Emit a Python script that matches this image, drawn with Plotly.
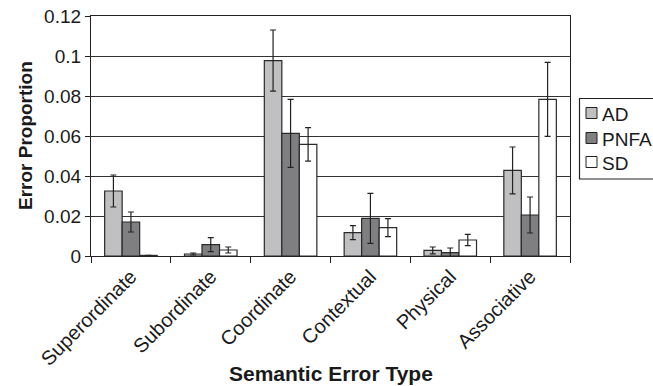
import plotly.graph_objects as go

categories = ["Superordinate", "Subordinate", "Coordinate", "Contextual", "Physical", "Associative"]
ad = [0.0325, 0.001, 0.0977, 0.0117, 0.0028, 0.0428]
ad_err = [0.008, 0.0005, 0.0153, 0.0035, 0.0017, 0.0117]
pnfa = [0.017, 0.0057, 0.0613, 0.0188, 0.0017, 0.0205]
pnfa_err = [0.005, 0.0035, 0.017, 0.0125, 0.0023, 0.009]
sd = [0.0003, 0.003, 0.0558, 0.0142, 0.008, 0.0783]
sd_err = [0.0, 0.0015, 0.0084, 0.0045, 0.0028, 0.0185]
yticks = [0, 0.02, 0.04, 0.06, 0.08, 0.1, 0.12]
yticklabels = ["0", "0.02", "0.04", "0.06", "0.08", "0.1", "0.12"]

series_names = ["AD", "PNFA", "SD"]
series_colors = ["#c0c0c2", "#7f7f81", "#ffffff"]

FONT = "Liberation Sans, Arial, sans-serif"
TXT = "#1a1a1a"
EDGE = "#2a2a2a"

# plot area in pixels
L, R, T, B = 91, 570, 16, 256
W, H = 653, 386


def px(x):
    return (x - L) / (R - L)


def py(y):
    return (B - y) / (B - T)


fig = go.Figure()
for name, vals, errs, color in zip(series_names, [ad, pnfa, sd], [ad_err, pnfa_err, sd_err], series_colors):
    fig.add_trace(go.Bar(
        name=name, x=categories, y=vals,
        marker=dict(color=color, line=dict(color=EDGE, width=1.2)),
        error_y=dict(type="data", array=errs, visible=True, color="#222222", thickness=1.2, width=3),
        showlegend=False,
    ))

# legend (drawn as layout decoration)
shapes = [dict(type="rect", xref="paper", yref="paper", x0=px(579.5), x1=px(720), y0=py(98.5), y1=py(179),
               line=dict(color="#222222", width=1.2), fillcolor="white", layer="above")]
annotations = []
row_y = [113, 138, 162]
for name, color, yy in zip(series_names, series_colors, row_y):
    shapes.append(dict(type="rect", xref="paper", yref="paper", x0=px(586), x1=px(597), y0=py(yy - 5.5), y1=py(yy + 5.5),
                       line=dict(color="#222222", width=1), fillcolor=color, layer="above"))
    annotations.append(dict(text=name, xref="paper", yref="paper", x=px(600), y=py(yy + 1),
                            xanchor="left", yanchor="middle", showarrow=False,
                            font=dict(size=19, family=FONT, color=TXT)))

annotations += [
    dict(text="<b>Error Proportion</b>", xref="paper", yref="paper",
         x=px(25), y=py(136), textangle=-90,
         showarrow=False, font=dict(size=19, family=FONT, color=TXT),
         xanchor="center", yanchor="middle"),
    dict(text="<b>Semantic Error Type</b>", xref="paper", yref="paper",
         x=px(331), y=py(373),
         showarrow=False, font=dict(size=21, family=FONT, color=TXT),
         xanchor="center", yanchor="middle"),
]

fig.update_layout(
    width=W, height=H,
    margin=dict(l=L, r=W - R, t=T, b=H - B, autoexpand=False),
    paper_bgcolor="white", plot_bgcolor="white",
    barmode="group", bargap=0.342, bargroupgap=0,
    font=dict(family=FONT, color=TXT),
    showlegend=False,
    shapes=shapes,
    annotations=annotations,
)
fig.update_xaxes(
    automargin=False,
    showline=True, linecolor="#222222", linewidth=1.2, mirror=True,
    ticks="outside", ticklen=6, tickcolor="#222222", tickson="boundaries",
    tickangle=-45, tickfont=dict(size=20, color=TXT),
)
fig.update_yaxes(
    automargin=False,
    range=[0, 0.12], tickvals=yticks, ticktext=yticklabels,
    showline=True, linecolor="#222222", linewidth=1.2, mirror=True,
    showgrid=True, gridcolor="#333333", gridwidth=1.2,
    ticks="outside", ticklen=5, tickcolor="#222222",
    tickfont=dict(size=19, color=TXT), zeroline=False,
)

fig.write_html("out.html", config={"displayModeBar": False},
               post_script="document.body.style.margin='0';")
